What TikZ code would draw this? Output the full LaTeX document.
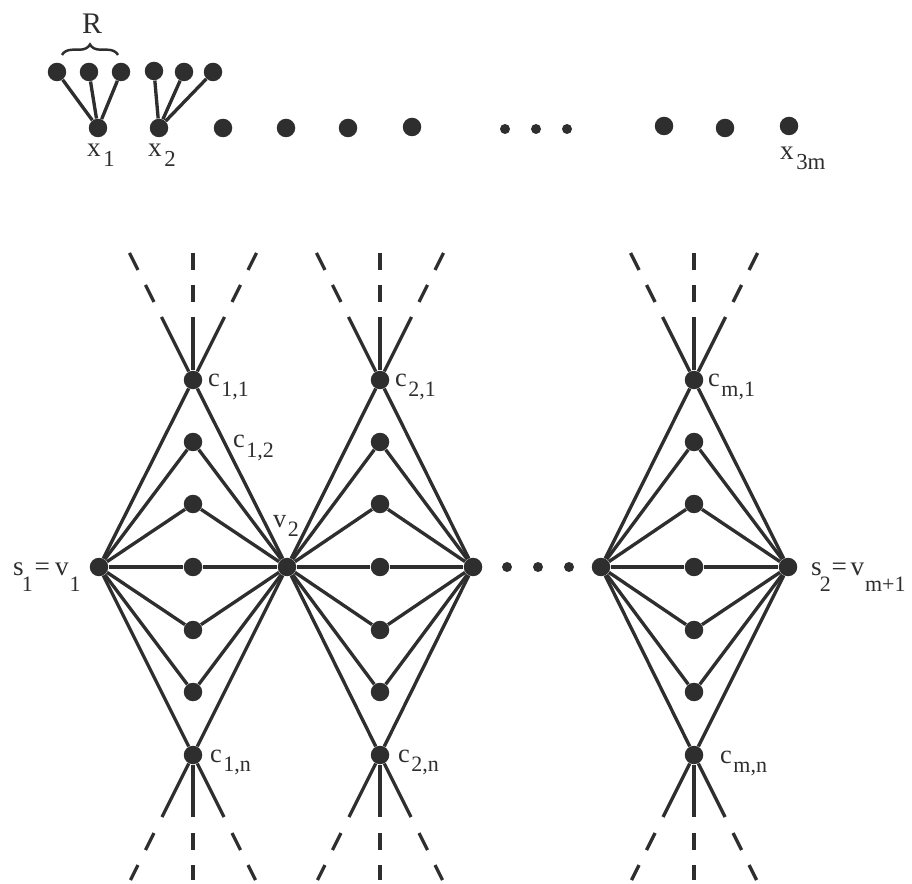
\documentclass[tikz,border=0pt]{standalone}
\usepackage{fontspec}
\setmainfont{Liberation Serif}
\usetikzlibrary{decorations.pathreplacing,calc}
\definecolor{ink}{HTML}{2E2E2E}
\newcommand\clab[2]{{\fontsize{15}{15}\selectfont #1}\hspace{1pt}\raisebox{-5.5pt}{\fontsize{12.5}{12.5}\selectfont #2}}
\newcommand\xlab[2]{{\fontsize{15.5}{15.5}\selectfont #1}\hspace{1.5pt}\raisebox{-5.5pt}{\fontsize{13}{13}\selectfont #2}}
\newcommand\lowsub[2]{\hspace{#1}\raisebox{-9.5pt}{\fontsize{12.5}{12.5}\selectfont #2}}
\begin{document}
\begin{tikzpicture}[x=0.02cm,y=-0.02cm,
  dot/.style={circle,fill=ink,inner sep=0pt,minimum size=0.37cm},
  sdot/.style={circle,fill=ink,inner sep=0pt,minimum size=0.2cm},
  edge/.style={draw=ink,line width=1.9pt},
  lab/.style={inner sep=0pt,outer sep=0pt,text=ink}]
\useasboundingbox (0,0) rectangle (912,884);

% ---------- top row ----------
\node[dot] (x1) at (98,128) {};
\node[dot] (r1) at (57,72) {};
\node[dot] (r2) at (89,72) {};
\node[dot] (r3) at (121,72) {};
\node[dot] (x2) at (159,128) {};
\node[dot] (q1) at (154,71) {};
\node[dot] (q2) at (184,72) {};
\node[dot] (q3) at (213,72) {};
\draw[edge] (x1) -- (r1) (x1) -- (r2) (x1) -- (r3);
\draw[edge] (x2) -- (q1) (x2) -- (q2) (x2) -- (q3);
\node[dot] (x3) at (223,128) {};
\node[dot] (x4) at (286,128) {};
\node[dot] (x5) at (348,128) {};
\node[dot] (x6) at (412,127) {};
\node[sdot] (e1) at (505,129) {};
\node[sdot] (e2) at (536,129) {};
\node[sdot] (e3) at (567,129) {};
\node[dot] (x7) at (664,126) {};
\node[dot] (x8) at (725,128) {};
\node[dot] (x9) at (789,126) {};

\coordinate (bl) at (62,55);
\coordinate (br) at (118,55);
\draw[ink,line width=1.4pt,decorate,decoration={brace,amplitude=6pt}] (bl) -- (br);
\node[lab,anchor=base] (Rl) at (92,34) {\fontsize{17}{17}\selectfont R};

\node[lab,anchor=base west] (lx1) at (87,157) {\xlab{x}{1}};
\node[lab,anchor=base west] (lx2) at (148,157) {\xlab{x}{2}};
\node[lab,anchor=base west] (lx3) at (780,160) {\xlab{x}{3m}};

% ---------- lower graph ----------
\node[dot] (v1) at (99,567) {};
\node[dot] (v2) at (287,567) {};
\node[dot] (v3) at (473,567) {};
\node[dot] (v4) at (601,567) {};
\node[dot] (v5) at (788,567) {};
\node[sdot] (m1) at (507,567) {};
\node[sdot] (m2) at (538,567) {};
\node[sdot] (m3) at (569,567) {};

\foreach \col/\cx/\L/\R in {a/193/v1/v2,b/380/v2/v3,d/694/v4/v5}{
  \foreach \i/\y in {1/380,2/442,3/504,4/567,5/630,6/692,7/755}{
    \node[dot] (\col\i) at (\cx,\y) {};
    \draw[edge] (\L) -- (\col\i) -- (\R);
  }
  \foreach \nm/\dd in {l/-1,m/0,r/1}{
    \coordinate (\col T\nm0) at ($(\col1)+(\dd*31.5,-63)$);
    \coordinate (\col T\nm1) at ($(\col1)+(\dd*39,-78)$);
    \coordinate (\col T\nm2) at ($(\col1)+(\dd*47.5,-95)$);
    \coordinate (\col T\nm3) at ($(\col1)+(\dd*55,-110)$);
    \coordinate (\col T\nm4) at ($(\col1)+(\dd*63.5,-127)$);
    \draw[edge] (\col1) -- (\col T\nm0) (\col T\nm1) -- (\col T\nm2) (\col T\nm3) -- (\col T\nm4);
    \coordinate (\col B\nm0) at ($(\col7)+(\dd*31,62)$);
    \coordinate (\col B\nm1) at ($(\col7)+(\dd*39,78)$);
    \coordinate (\col B\nm2) at ($(\col7)+(\dd*47.5,95)$);
    \coordinate (\col B\nm3) at ($(\col7)+(\dd*55,110)$);
    \coordinate (\col B\nm4) at ($(\col7)+(\dd*62.5,125)$);
    \draw[edge] (\col7) -- (\col B\nm0) (\col B\nm1) -- (\col B\nm2) (\col B\nm3) -- (\col B\nm4);
  }
}

% ---------- labels ----------
\node[lab,anchor=base west] (lc11) at (208,387) {\clab{c}{1,1}};
\node[lab,anchor=base west] (lc12) at (233,448) {\clab{c}{1,2}};
\node[lab,anchor=base west] (lc21) at (395,387) {\clab{c}{2,1}};
\node[lab,anchor=base west] (lcm1) at (708,387) {\clab{c}{m,1}};
\node[lab,anchor=base west] (lc1n) at (210,762) {\clab{c}{1,n}};
\node[lab,anchor=base west] (lc2n) at (398,762) {\clab{c}{2,n}};
\node[lab,anchor=base west] (lcmn) at (720,763) {\clab{c}{m,n}};
\node[lab,anchor=base west] (lv2) at (273,527) {\clab{v}{2}};
\node[lab,anchor=base west] (ls1) at (13,575) {\fontsize{15.5}{15.5}\selectfont s\lowsub{-1pt}{1}\hspace{1pt}=\hspace{3pt}v\lowsub{0.5pt}{1}};
\node[lab,anchor=base west] (ls2) at (811,575) {\fontsize{15.5}{15.5}\selectfont s\lowsub{-1pt}{2}\hspace{0.5pt}=\hspace{2pt}v\lowsub{0.5pt}{m+1}};
\end{tikzpicture}
\end{document}
